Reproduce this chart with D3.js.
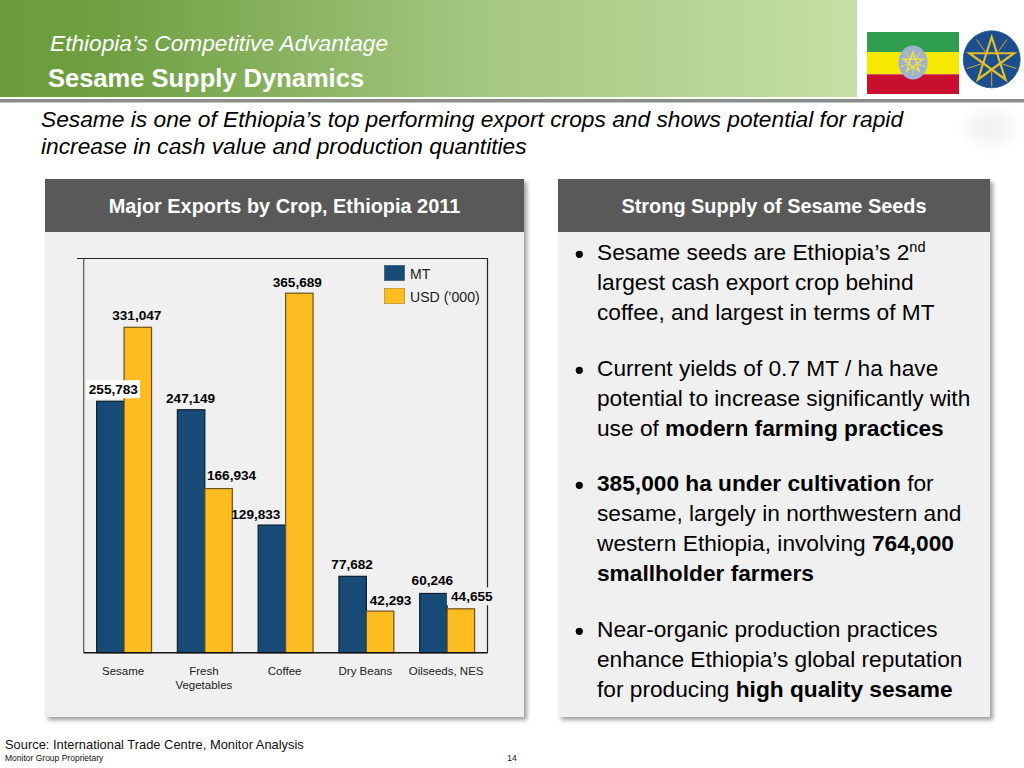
<!DOCTYPE html>
<html><head><meta charset="utf-8">
<script src="https://cdn.jsdelivr.net/npm/d3@7"></script>
<style>html,body{margin:0;padding:0;background:#fff}svg{display:block}text{font-family:"Liberation Sans",Arial,sans-serif}</style>
</head><body><div id="c"></div>
<script>
const categories = ["Sesame","Fresh Vegetables","Coffee","Dry Beans","Oilseeds, NES"];
const seriesNames = ["MT","USD (’000)"];
const mtValues = [255783,247149,129833,77682,60246];
const usdValues = [331047,166934,365689,42293,44655];
const subtitleLines = ["Sesame is one of Ethiopia’s top performing export crops and shows potential for rapid","increase in cash value and production quantities"];
const bullets = [
 {y:260,lines:[[["Sesame seeds are Ethiopia’s 2",0],["nd",2]],[["largest cash export crop behind",0]],[["coffee, and largest in terms of MT",0]]]},
 {y:376,lines:[[["Current yields of 0.7 MT / ha have",0]],[["potential to increase significantly with",0]],[["use of ",0],["modern farming practices",1]]]},
 {y:491,lines:[[["385,000 ha under cultivation",1],[" for",0]],[["sesame, largely in northwestern and",0]],[["western Ethiopia, involving ",0],["764,000",1]],[["smallholder farmers",1]]]},
 {y:637,lines:[[["Near-organic production practices",0]],[["enhance Ethiopia’s global reputation",0]],[["for producing ",0],["high quality sesame",1]]]}
];
const W=1024,H=768;
const svg=d3.select("#c").append("svg").attr("width",W).attr("height",H);
const defs=svg.append("defs");
const g=defs.append("linearGradient").attr("id","hdr");
[[0,"#6a9d3a"],[0.12,"#6f9f41"],[0.55,"#a3c67f"],[1,"#c5e0a6"]].forEach(s=>g.append("stop").attr("offset",s[0]).attr("stop-color",s[1]));
const sh=defs.append("filter").attr("id","shadow").attr("x","-5%").attr("y","-5%").attr("width","110%").attr("height","110%");
sh.append("feDropShadow").attr("dx",3).attr("dy",3).attr("stdDeviation",2).attr("flood-color","#000").attr("flood-opacity",0.38);
const blur=defs.append("filter").attr("id","blur").attr("x","-50%").attr("y","-50%").attr("width","200%").attr("height","200%");
blur.append("feGaussianBlur").attr("stdDeviation",8);

// header band
svg.append("rect").attr("width",857).attr("height",97).attr("fill","url(#hdr)");
svg.append("rect").attr("y",99).attr("width",W).attr("height",3.5).attr("fill","#8c8c8c");
svg.append("text").attr("x",50).attr("y",51).attr("font-size",22.7).attr("font-style","italic").attr("fill","#fff").text("Ethiopia’s Competitive Advantage");
svg.append("text").attr("x",48).attr("y",87).attr("font-size",25.5).attr("font-weight","bold").attr("fill","#fff").text("Sesame Supply Dynamics");

// flag
const fx=867,fw=92;
[["#2f9e4f",32,20],["#f6e800",52,22.3],["#c8102e",74.3,19.7]].forEach(b=>svg.append("rect").attr("x",fx).attr("y",b[1]).attr("width",fw).attr("height",b[2]).attr("fill",b[0]));
svg.append("ellipse").attr("cx",913).attr("cy",62.5).attr("rx",14.5).attr("ry",17).attr("fill","#9fb2d0");
function star(cx,cy,r){const p=[];for(let i=0;i<5;i++){const a=-Math.PI/2+i*4*Math.PI/5;p.push([cx+r*Math.cos(a),cy+r*Math.sin(a)]);}return "M"+p.join("L")+"Z";}
function rays(cx,cy,r0,r1){let d="";for(let i=0;i<5;i++){const a=-Math.PI/2+Math.PI/5+i*2*Math.PI/5;d+=`M${cx+r0*Math.cos(a)},${cy+r0*Math.sin(a)}L${cx+r1*Math.cos(a)},${cy+r1*Math.sin(a)}`;}return d;}
svg.append("path").attr("d",rays(913,62.5,5,13)).attr("stroke","#f0e040").attr("stroke-width",0.9);
svg.append("path").attr("d",star(913,62.5,10.5)).attr("fill","none").attr("stroke","#f0e040").attr("stroke-width",1.5);
svg.append("circle").attr("cx",991.7).attr("cy",59.3).attr("r",28.5).attr("fill","#1c4d8c").attr("stroke","#2a5a90").attr("stroke-width",0.8);
svg.append("path").attr("d",rays(991.7,60.5,11,26)).attr("stroke","#c9ad35").attr("stroke-width",1);
svg.append("path").attr("d",star(991.7,60.5,23.5)).attr("fill","none").attr("stroke","#e2be2a").attr("stroke-width",2.2);
svg.append("ellipse").attr("cx",990).attr("cy",128).attr("rx",24).attr("ry",16).attr("fill","#000").attr("opacity",0.05).attr("filter","url(#blur)");

// subtitle
subtitleLines.forEach((t,i)=>svg.append("text").attr("x",41).attr("y",127+i*27).attr("font-size",22.76).attr("font-style","italic").attr("fill","#000").text(t));

// panels
const panels=[{x:45,w:479,t:"Major Exports by Crop, Ethiopia 2011"},{x:558,w:432,t:"Strong Supply of Sesame Seeds"}];
panels.forEach(p=>{
 svg.append("rect").attr("x",p.x).attr("y",179).attr("width",p.w).attr("height",538).attr("fill","#f0f0f0").attr("filter","url(#shadow)");
 svg.append("rect").attr("x",p.x).attr("y",179).attr("width",p.w).attr("height",53).attr("fill","#595959");
 svg.append("text").attr("x",p.x+p.w/2).attr("y",212.5).attr("text-anchor","middle").attr("font-size",19.9).attr("font-weight","bold").attr("fill","#fff").text(p.t);
});

// chart
const plot={l:83.7,r:487.5,t:258.5,b:652.7};
const x=d3.scaleBand().domain(categories).range([plot.l,plot.r]).paddingInner(0.32).paddingOuter(0.16);
const sub=d3.scaleBand().domain(seriesNames).range([0,x.bandwidth()]);
const y=d3.scaleLinear().domain([0,401000]).range([plot.b,plot.t]);
const colors=["#174a74","#fdbd20"], strokes=["#0d2030","#6b5216"];
const ax=svg.append("g");
ax.append("path").attr("d",`M77,${plot.t}H${plot.r}V${plot.b}`).attr("fill","none").attr("stroke","#222").attr("stroke-width",1.2);
ax.append("path").attr("d",`M${plot.l},${plot.t}V${plot.b}`).attr("fill","none").attr("stroke","#555").attr("stroke-width",1.2);

[mtValues,usdValues].forEach((vals,si)=>{
 svg.append("g").selectAll("rect").data(vals).join("rect")
  .attr("x",(d,i)=>x(categories[i])+sub(seriesNames[si]))
  .attr("y",d=>y(d)).attr("width",sub.bandwidth()).attr("height",d=>y(0)-y(d))
  .attr("fill",colors[si]).attr("stroke",strokes[si]).attr("stroke-width",1.2);
});
svg.append("path").attr("d",`M${plot.l},${plot.b}H${plot.r}`).attr("stroke","#111").attr("stroke-width",1.4);

// data labels: placement relative to each bar [dx from bar centre, dy from bar top, masked background]
const mtLabelNudge=[[3,-12,"#fff",53],[-0.5,-11,null],[-16,-11,null],[-0.5,-11.5,null],[-1,-12.5,null]];
const usdLabelNudge=[[-1,-11.5,null],[13,-13,null],[-2,-11,null],[10.5,-11,null],[11,-12.5,"#f0f0f0",50]];
[[mtValues,mtLabelNudge],[usdValues,usdLabelNudge]].forEach(([vals,nudge],si)=>{
 vals.forEach((v,i)=>{
  const cx=x(categories[i])+sub(seriesNames[si])+sub.bandwidth()/2+nudge[i][0];
  const cy=y(v)+nudge[i][1];
  if(nudge[i][2]) svg.append("rect").attr("x",cx-nudge[i][3]/2).attr("y",cy-9).attr("width",nudge[i][3]).attr("height",18).attr("fill",nudge[i][2]);
  svg.append("text").attr("x",cx).attr("y",cy+4.5).attr("text-anchor","middle").attr("font-size",13.6).attr("font-weight","bold").attr("fill","#000").text(d3.format(",")(v));
 });
});

// category labels
const xAxis=svg.append("g");
categories.forEach(c=>{
 const words=c==="Fresh Vegetables"?c.split(" "):[c];
 words.forEach((w,i)=>xAxis.append("text").attr("x",x(c)+x.bandwidth()/2-1).attr("y",675+i*13.7).attr("text-anchor","middle").attr("font-size",11.5).attr("fill","#222").text(w));
});

// legend
seriesNames.forEach((n,i)=>{
 svg.append("rect").attr("x",384.5).attr("y",265.5+i*23).attr("width",20).attr("height",15).attr("fill",colors[i]).attr("stroke",i?"#b8932a":"#3a5f80").attr("stroke-width",0.8);
 svg.append("text").attr("x",410).attr("y",279+i*23).attr("font-size",14.1).attr("fill","#222").text(n);
});

// right text
const tg=svg.append("g");
bullets.forEach(b=>{
 tg.append("circle").attr("cx",579.3).attr("cy",b.y-5.7).attr("r",3.6).attr("fill","#000");
 b.lines.forEach((ln,i)=>{
  const t=tg.append("text").attr("x",597).attr("y",b.y+i*30).attr("font-size",22.7).attr("fill","#000");
  ln.forEach(([s,k])=>{
   const sp=t.append("tspan").text(s);
   if(k===1) sp.attr("font-weight","bold");
   if(k===2) sp.attr("font-size",14.5).attr("dy",-8);
  });
 });
});

// footer
svg.append("text").attr("x",5).attr("y",748.5).attr("font-size",12.9).attr("fill","#111").text("Source: International Trade Centre, Monitor Analysis");
svg.append("text").attr("x",5).attr("y",761).attr("font-size",8.5).attr("fill","#111").text("Monitor Group Proprietary");
svg.append("text").attr("x",512).attr("y",761).attr("text-anchor","middle").attr("font-size",8.5).attr("fill","#111").text("14");
</script></body></html>
